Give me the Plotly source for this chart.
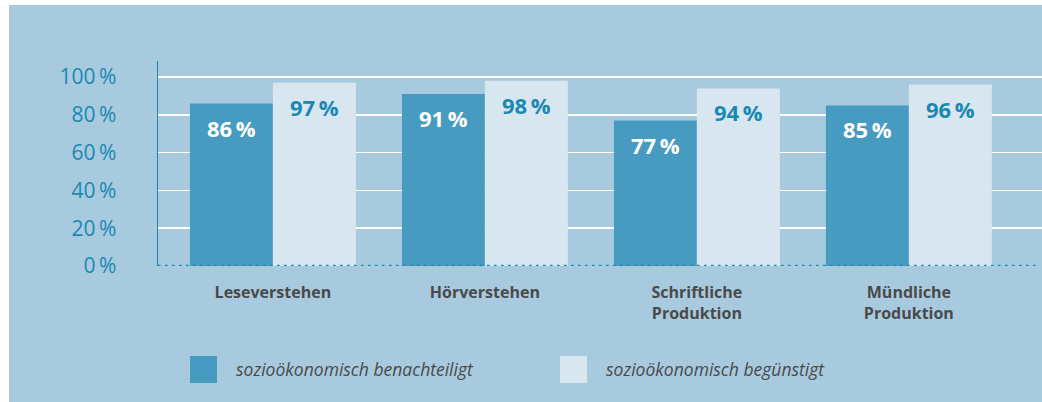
import plotly.graph_objects as go

categories = ["Leseverstehen", "Hörverstehen", "Schriftliche<br>Produktion", "Mündliche<br>Produktion"]
benachteiligt = [86, 91, 77, 85]
beguenstigt = [97, 98, 94, 96]
series_names = ["sozioökonomisch benachteiligt", "sozioökonomisch begünstigt"]
y_ticks = [0, 20, 40, 60, 80, 100]
y_ticklabels = [f"{v}\u2009%" for v in y_ticks]

BG = "#a8cadf"
DARK = "#479bc1"
LIGHT = "#d8e6f0"
TEAL = "#1a89b2"
GREY = "#4a4a4a"
FONT = "Open Sans"

W, H = 1042, 402
L, R, T, B = 158, 0, 61, 136
PW, PH = W - L - R, H - T - B


def px_x(p):
    return (p - L) / PW


def px_y(p):
    return (H - B - p) / PH


fig = go.Figure()
fig.add_trace(go.Bar(x=categories, y=benachteiligt, name=series_names[0],
                     marker=dict(color=DARK, line=dict(width=0)), showlegend=False,
                     hoverinfo="skip"))
fig.add_trace(go.Bar(x=categories, y=beguenstigt, name=series_names[1],
                     marker=dict(color=LIGHT, line=dict(width=0)), showlegend=False,
                     hoverinfo="skip"))

annotations = []
half = 0.5 * (1 - 0.217) / 2 * (PW / 4.17)
for cat, v in zip(categories, benachteiligt):
    annotations.append(dict(x=cat, y=v, xref="x", yref="y", text=f"<b>{v}\u2009%</b>",
                            showarrow=False, xshift=-half, yshift=-24, yanchor="middle",
                            font=dict(family=FONT, size=22, color="white")))
for cat, v in zip(categories, beguenstigt):
    annotations.append(dict(x=cat, y=v, xref="x", yref="y", text=f"<b>{v}\u2009%</b>",
                            showarrow=False, xshift=half, yshift=-24, yanchor="middle",
                            font=dict(family=FONT, size=22, color=TEAL)))

# legend (manual)
legend_items = [(190, DARK, series_names[0]), (560, LIGHT, series_names[1])]
shapes = [
    dict(type="rect", xref="paper", yref="paper", x0=px_x(9), x1=px_x(W), y0=px_y(H), y1=px_y(5),
         fillcolor=BG, line=dict(width=0), layer="below"),
    dict(type="line", xref="paper", yref="y", x0=0, x1=px_x(1037), y0=0, y1=0,
         line=dict(color=TEAL, width=2.6, dash="2.6px,4.4px"), layer="above"),
]
for x0, col, name in legend_items:
    shapes.append(dict(type="rect", xref="paper", yref="paper", x0=px_x(x0), x1=px_x(x0 + 27),
                       y0=px_y(383), y1=px_y(356), fillcolor=col, line=dict(width=0)))
    annotations.append(dict(x=px_x(x0 + 44), y=px_y(369), xref="paper", yref="paper",
                            text=f"<i>{name}</i>", showarrow=False, xanchor="left", yanchor="middle",
                            font=dict(family=FONT, size=17.5, color=GREY)))

fig.update_layout(
    width=W, height=H,
    margin=dict(l=L, r=R, t=T, b=B, pad=0),
    paper_bgcolor="white",
    plot_bgcolor="rgba(0,0,0,0)",
    barmode="group", bargap=0.217, bargroupgap=0,
    showlegend=False,
    hovermode=False,
    shapes=shapes,
    annotations=annotations,
    xaxis=dict(range=[-0.542, 3.628], showgrid=False, zeroline=False, showline=False,
               tickfont=dict(family=FONT, size=16, color=GREY), ticklabelstandoff=15,
               tickprefix="<b>", ticksuffix="</b>", fixedrange=True),
    yaxis=dict(range=[0, 108.5], tickvals=y_ticks, ticktext=y_ticklabels,
               showgrid=True, gridcolor="white", gridwidth=1.5,
               zeroline=True, zerolinecolor=BG, zerolinewidth=2,
               showline=True, linecolor=TEAL, linewidth=1.5,
               tickfont=dict(family=FONT, size=21, color=TEAL), ticklabelstandoff=36,
               fixedrange=True),
)

fig.write_html("out.html", config={"displayModeBar": False, "staticPlot": True},
               post_script="document.body.style.margin='0px';")
